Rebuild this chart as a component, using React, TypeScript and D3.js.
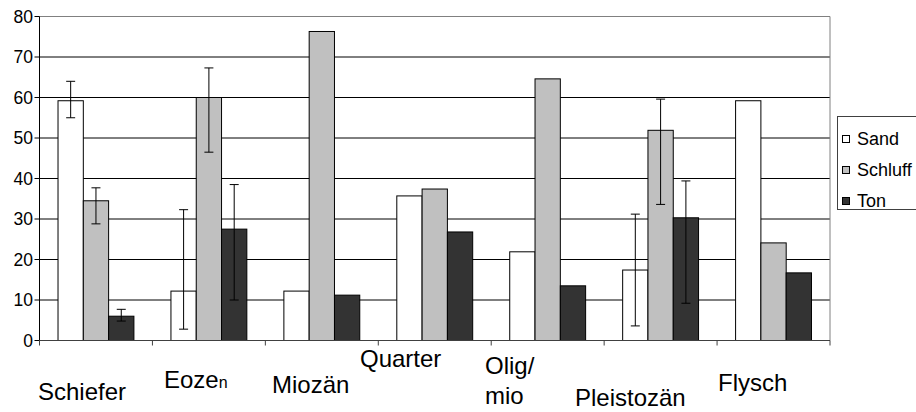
import React from "react";
import * as d3 from "d3";

const categories = ["Schiefer", "Eozen", "Miozän", "Quarter", "Olig/mio", "Pleistozän", "Flysch"];
const seriesNames = ["Sand", "Schluff", "Ton"];
const sandValues = [59.2, 12.2, 12.2, 35.7, 21.9, 17.4, 59.2];
const schluffValues = [34.5, 60.0, 76.3, 37.4, 64.6, 51.9, 24.1];
const tonValues = [6.0, 27.5, 11.2, 26.8, 13.5, 30.3, 16.7];
// error ranges [low, high] or null
const sandErrors: ([number, number] | null)[] = [[55.0, 64.0], [2.8, 32.3], null, null, null, [3.6, 31.2], null];
const schluffErrors: ([number, number] | null)[] = [[28.8, 37.7], [46.5, 67.3], null, null, null, [33.6, 59.6], null];
const tonErrors: ([number, number] | null)[] = [[4.8, 7.7], [10.0, 38.5], null, null, null, [9.2, 39.4], null];
const yTicks = [0, 10, 20, 30, 40, 50, 60, 70, 80];

const seriesColors = ["#ffffff", "#c0c0c0", "#333333"];
const FONT = "'Liberation Sans', Arial, sans-serif";

// label layout: dx from category start, baseline(s)
const labelLayout: { dx: number; y: number[] }[] = [
  { dx: -1.5, y: [400] },
  { dx: 11.6, y: [388] },
  { dx: 6.6, y: [393] },
  { dx: -18.3, y: [367] },
  { dx: -6.2, y: [374, 404] },
  { dx: -29.2, y: [406] },
  { dx: 0.9, y: [391] },
];

export default function App() {
  const left = 39.5, right = 830, top = 16.5, bottom = 340.5;
  const x = d3.scaleBand<string>().domain(categories).range([left, right]).padding(0);
  const xs = d3.scaleBand<string>().domain(seriesNames).range([0, x.bandwidth()]).paddingInner(0).paddingOuter(0.732);
  const y = d3.scaleLinear().domain([0, 80]).range([bottom, top]);
  const values = [sandValues, schluffValues, tonValues];
  const errors = [sandErrors, schluffErrors, tonErrors];

  return (
    <svg width={916} height={412} style={{ position: "absolute", left: 0, top: 0, background: "#fff" }} fontFamily={FONT}>
      {/* gridlines */}
      {yTicks.filter((t) => t > 0 && t < 80).map((t) => (
        <line key={t} x1={left} x2={right} y1={y(t)} y2={y(t)} stroke="#000" strokeWidth={1} />
      ))}
      {/* plot border top/right */}
      <line x1={left} x2={right} y1={y(80)} y2={y(80)} stroke="#808080" />
      <line x1={right} x2={right} y1={y(80)} y2={bottom} stroke="#808080" />
      {/* bars */}
      {categories.map((c, i) => (
        <g key={c}>
          {seriesNames.map((s, j) => (
            <rect key={s} x={(x(c) as number) + (xs(s) as number)} y={y(values[j][i])} width={xs.bandwidth()}
              height={bottom - y(values[j][i])} fill={seriesColors[j]} stroke="#000" strokeWidth={1} />
          ))}
        </g>
      ))}
      {/* error bars */}
      {categories.map((c, i) => (
        <g key={c + "e"}>
          {seriesNames.map((s, j) => {
            const e = errors[j][i];
            if (!e) return null;
            const cx = (x(c) as number) + (xs(s) as number) + xs.bandwidth() / 2;
            return (
              <g key={s} stroke="#000" strokeWidth={1}>
                <line x1={cx} x2={cx} y1={y(e[0])} y2={y(e[1])} />
                <line x1={cx - 4.5} x2={cx + 4.5} y1={y(e[0])} y2={y(e[0])} />
                <line x1={cx - 4.5} x2={cx + 4.5} y1={y(e[1])} y2={y(e[1])} />
              </g>
            );
          })}
        </g>
      ))}
      {/* axes */}
      <line x1={left} x2={left} y1={top} y2={bottom} stroke="#000" />
      <line x1={left} x2={right} y1={bottom} y2={bottom} stroke="#404040" />
      {yTicks.map((t) => (
        <g key={t}>
          <line x1={left - 5} x2={left} y1={y(t)} y2={y(t)} stroke="#000" />
          <text x={33} y={y(t)} textAnchor="end" dominantBaseline="central" fontSize={17.5} fill="#000">{t}</text>
        </g>
      ))}
      {categories.map((c) => (
        <line key={c + "t"} x1={x(c) as number} x2={x(c) as number} y1={bottom} y2={bottom + 5} stroke="#404040" />
      ))}
      <line x1={right} x2={right} y1={bottom} y2={bottom + 5} stroke="#404040" />
      {/* category labels */}
      {categories.map((c, i) => {
        const lay = labelLayout[i];
        const lx = (x(c) as number) + lay.dx;
        if (c === "Eozen") {
          return (
            <text key={c + "l"} x={lx} y={lay.y[0]} fontSize={24} fill="#000">
              Eoze<tspan fontSize={16}>n</tspan>
            </text>
          );
        }
        const lines = c === "Olig/mio" ? ["Olig/", "mio"] : [c];
        return lines.map((ln, k) => (
          <text key={c + "l" + k} x={lx} y={lay.y[k]} fontSize={24} fill="#000">{ln}</text>
        ));
      })}
      {/* legend */}
      <rect x={837.5} y={116.5} width={90} height={93} fill="#fff" stroke="#404040" />
      {seriesNames.map((s, j) => {
        const cy = 139 + j * 31;
        return (
          <g key={s + "leg"}>
            <rect x={842.5} y={cy - 3.5} width={7} height={7} fill={seriesColors[j]} stroke="#000" />
            <text x={857} y={cy} dominantBaseline="central" fontSize={18} fill="#000">{s}</text>
          </g>
        );
      })}
    </svg>
  );
}
